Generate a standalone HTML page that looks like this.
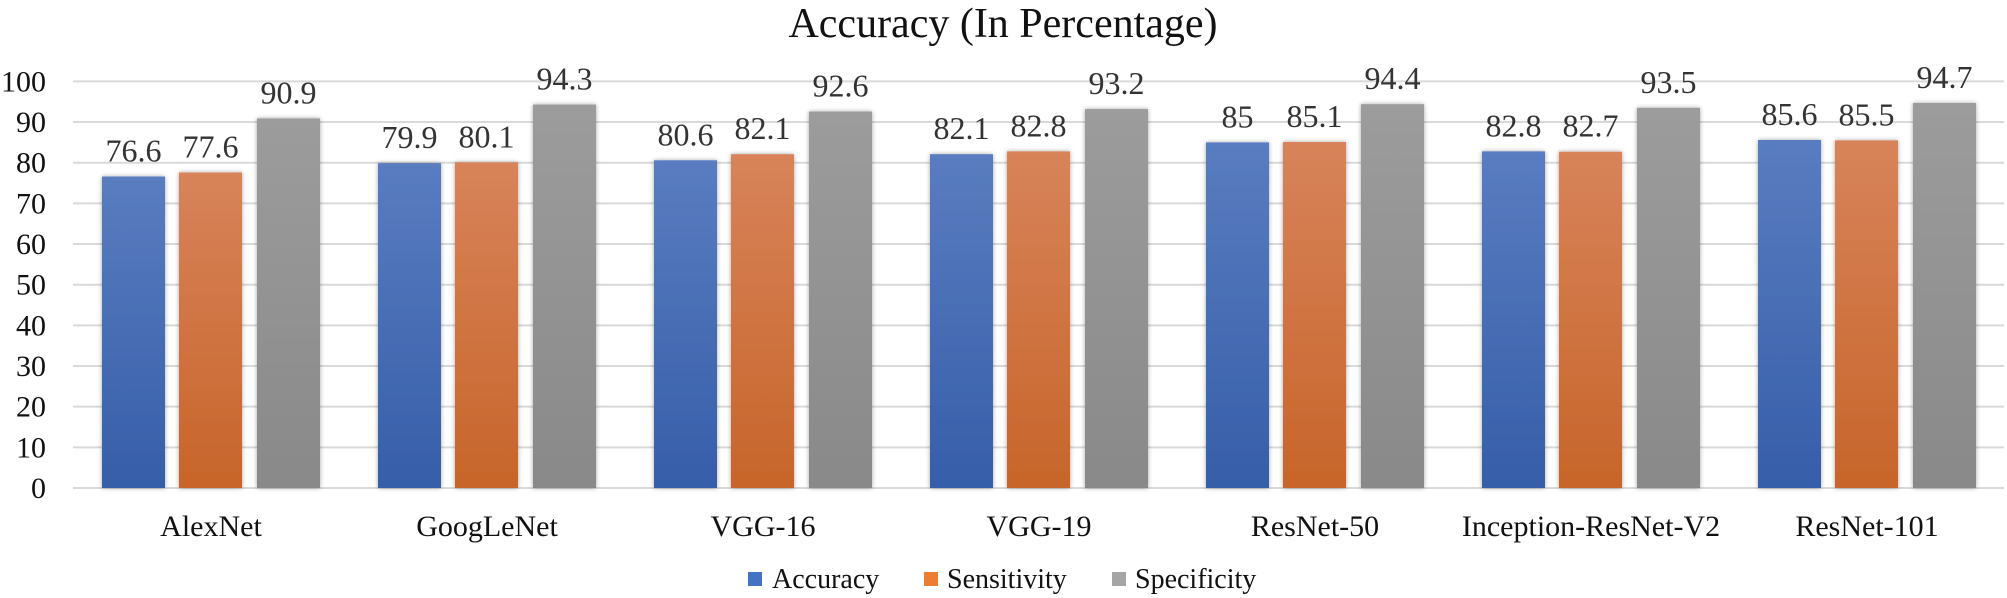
<!DOCTYPE html>
<html><head><meta charset="utf-8"><style>
html,body{margin:0;padding:0;background:#fff;}
svg{display:block;font-family:"Liberation Serif",serif;}
</style></head><body>
<svg width="2007" height="598" viewBox="0 0 2007 598" xmlns="http://www.w3.org/2000/svg">
<defs>
<linearGradient id="gb" x1="0" y1="0" x2="0" y2="1"><stop offset="0" stop-color="#5a7cc0"/><stop offset="1" stop-color="#365ea9"/></linearGradient>
<linearGradient id="go" x1="0" y1="0" x2="0" y2="1"><stop offset="0" stop-color="#d8835a"/><stop offset="1" stop-color="#c7652a"/></linearGradient>
<linearGradient id="gg" x1="0" y1="0" x2="0" y2="1"><stop offset="0" stop-color="#9c9c9c"/><stop offset="1" stop-color="#898989"/></linearGradient>
<filter id="sh" x="-20%" y="-10%" width="140%" height="120%"><feGaussianBlur in="SourceAlpha" stdDeviation="2.5"/><feComponentTransfer><feFuncA type="linear" slope="0.35"/></feComponentTransfer><feMerge><feMergeNode/><feMergeNode in="SourceGraphic"/></feMerge></filter>
</defs>
<text x="1003" y="37" text-anchor="middle" font-size="42" fill="#111">Accuracy (In Percentage)</text>
<g id="grid" stroke="#d9d9d9" stroke-width="2"></g>
<g id="ticks" font-size="30" fill="#111" text-anchor="end"></g>
<g id="bars"></g>
<g id="cats" font-size="30" fill="#111" text-anchor="middle"></g>
<g font-size="28" fill="#111">
<rect x="748" y="572" width="14" height="14" fill="#4472c4"/><text x="772" y="588">Accuracy</text>
<rect x="924" y="572" width="14" height="14" fill="#ed7d31"/><text x="947" y="588">Sensitivity</text>
<rect x="1112" y="572" width="14" height="14" fill="#a5a5a5"/><text x="1135" y="588">Specificity</text>
</g>
</svg>
<script>
var ns="http://www.w3.org/2000/svg";
function el(t,a,p,txt){var e=document.createElementNS(ns,t);for(var k in a)e.setAttribute(k,a[k]);if(txt!==undefined)e.textContent=txt;document.getElementById(p).appendChild(e);return e;}
var y0=488,s=4.066,L=73,R=2004,P=276;
for(var v=0;v<=100;v+=10){var yy=y0-v*s;el('line',{x1:L,x2:R,y1:yy,y2:yy},'grid');el('text',{x:46,y:yy+10},'ticks',v);}
var cats=["AlexNet","GoogLeNet","VGG-16","VGG-19","ResNet-50","Inception-ResNet-V2","ResNet-101"];
var d=[[76.6,77.6,90.9],[79.9,80.1,94.3],[80.6,82.1,92.6],[82.1,82.8,93.2],[85,85.1,94.4],[82.8,82.7,93.5],[85.6,85.5,94.7]];
var g=["gb","go","gg"],off=[29,106,184],w=63;
for(var i=0;i<7;i++){var gx=L+i*P;
 el('text',{x:gx+P/2,y:536},'cats',cats[i]);
 for(var j=0;j<3;j++){var val=d[i][j],ty=y0-val*s,bx=gx+off[j];
  el('rect',{x:bx,y:ty,width:w,height:y0-ty,fill:'url(#'+g[j]+')',filter:'url(#sh)'},'bars');
  el('text',{x:bx+w/2,y:ty-15,'font-size':32,fill:'#333','text-anchor':'middle'},'bars',String(val));
 }}
</script>
</body></html>
